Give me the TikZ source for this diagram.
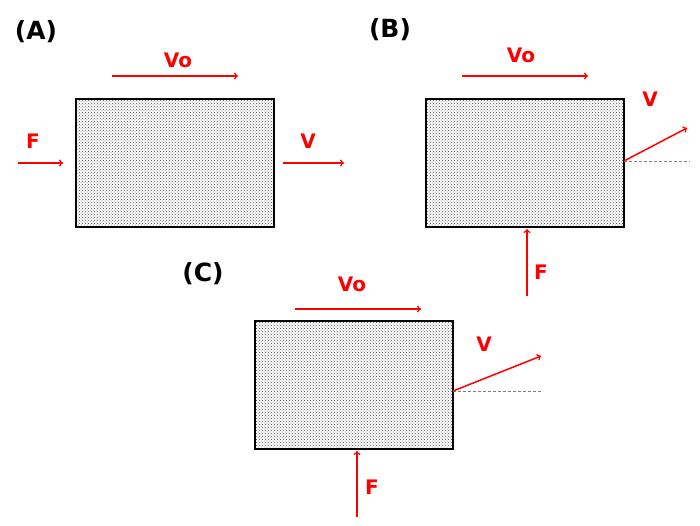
\documentclass[tikz,border=0pt]{standalone}
\usepackage{fontspec}
\setmainfont{DejaVu Sans}
\usetikzlibrary{patterns}
\usetikzlibrary{calc}
\begin{document}
\begin{tikzpicture}[x=1pt,y=-1pt,
	every node/.style={font=\bfseries\fontsize{20}{20}\selectfont, text=red},
	block/.style={draw=black, line width=1.2pt, pattern=crosshatch dots, pattern color=black!70},
	vec/.style={draw=red, line width=1.5pt, ->},
	tag/.style={font=\bfseries\fontsize{25}{25}\selectfont, text=black},
	guide/.style={densely dashed, gray, line width=0.4pt}]
	\useasboundingbox (0,0) rectangle (700,525);
	% (A)
	\node[tag] (tA) at (36,32) {(A)};
	\draw[block] (76,99) rectangle (274,227);
	\coordinate (a1) at (112,76); \coordinate (a2) at (238,76);
	\coordinate (a3) at (18,163); \coordinate (a4) at (63,163);
	\coordinate (a5) at (283,163); \coordinate (a6) at (344,163);
	\draw[vec] (a1) -- (a2);
	\draw[vec] (a3) -- (a4);
	\draw[vec] (a5) -- (a6);
	\node (voA) at (178,60) {Vo};
	\node (fA) at (33,141) {F};
	\node (vA) at (308,141) {V};
	% (B)
	\node[tag] (tB) at (390,30) {(B)};
	\draw[block] (426,99) rectangle (624,227);
	\coordinate (b1) at (462,76); \coordinate (b2) at (588,76);
	\coordinate (b3) at (624,161); \coordinate (b4) at (687,128);
	\coordinate (b5) at (527,296); \coordinate (b6) at (527,229);
	\coordinate (b7) at (690,161);
	\draw[guide] (b3) -- (b7);
	\draw[vec] (b1) -- (b2);
	\draw[vec] (b3) -- (b4);
	\draw[vec] (b5) -- (b6);
	\node (voB) at (521,55) {Vo};
	\node (vB) at (650,99) {V};
	\node (fB) at (541,272) {F};
	% (C)
	\node[tag] (tC) at (203,274) {(C)};
	\draw[block] (255,321) rectangle (453,449);
	\coordinate (c1) at (295,309); \coordinate (c2) at (421,309);
	\coordinate (c3) at (453,391); \coordinate (c4) at (541,356);
	\coordinate (c5) at (357,517); \coordinate (c6) at (357,451);
	\coordinate (c7) at (543,391);
	\draw[guide] (c3) -- (c7);
	\draw[vec] (c1) -- (c2);
	\draw[vec] (c3) -- (c4);
	\draw[vec] (c5) -- (c6);
	\node (voC) at (352,284) {Vo};
	\node (vC) at (484,344) {V};
	\node (fC) at (372,487) {F};
\end{tikzpicture}
\end{document}
